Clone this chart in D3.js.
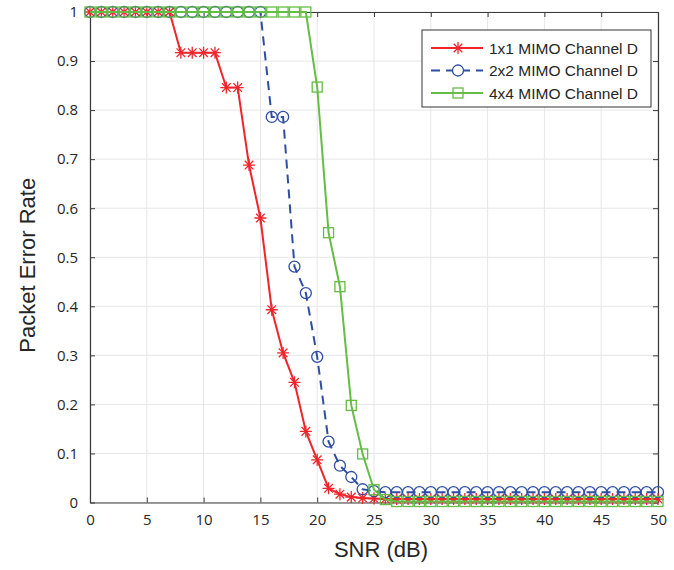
<!DOCTYPE html>
<html>
<head>
<meta charset="utf-8">
<script src="https://cdn.jsdelivr.net/npm/d3@7"></script>
<style>
  body { margin: 0; background: #fff; }
  text { font-family: "Open Sans", "Noto Sans", sans-serif; fill: #262626; }
  .lab { font-family: "Liberation Sans", Arial, sans-serif; }
</style>
</head>
<body>
<div class="chart"></div>
<script>
const snr = d3.range(0, 51);

const per1x1 = [1, 1, 1, 1, 1, 1, 1, 1, 0.917, 0.917, 0.917, 0.917, 0.846, 0.846, 0.688, 0.58,
    0.393, 0.305, 0.245, 0.145, 0.087, 0.029, 0.017, 0.011, 0.009, 0.008,
    0.007, 0.007, 0.007, 0.007, 0.007, 0.007, 0.007, 0.007, 0.007, 0.007, 0.007, 0.007, 0.007,
    0.007, 0.007, 0.007, 0.007, 0.007, 0.007, 0.007, 0.007, 0.007, 0.007, 0.007, 0.007];

const per2x2 = [1, 1, 1, 1, 1, 1, 1, 1, 1, 1, 1, 1, 1, 1, 1, 1,
    0.786, 0.786, 0.481, 0.427, 0.297, 0.124, 0.075, 0.052, 0.027, 0.023,
    0.021, 0.021, 0.021, 0.021, 0.021, 0.021, 0.021, 0.021, 0.021, 0.021, 0.021, 0.021, 0.021,
    0.021, 0.021, 0.021, 0.021, 0.021, 0.021, 0.021, 0.021, 0.021, 0.021, 0.021, 0.021];

const per4x4 = [1, 1, 1, 1, 1, 1, 1, 1, 1, 1, 1, 1, 1, 1, 1, 1, 1, 1, 1, 1,
    0.847, 0.55, 0.44, 0.198, 0.099, 0.026, 0.006,
    0.002, 0.002, 0.002, 0.002, 0.002, 0.002, 0.002, 0.002, 0.002, 0.002, 0.002, 0.002,
    0.002, 0.002, 0.002, 0.002, 0.002, 0.002, 0.002, 0.002, 0.002, 0.002, 0.002, 0.002];

const seriesNames = ["1x1 MIMO Channel D", "2x2 MIMO Channel D", "4x4 MIMO Channel D"];
const xTicks = d3.range(0, 51, 5);
const yTicks = d3.range(0, 11).map(d => d / 10);

const width = 674;
const height = 570;
const margin = { left: 90, right: 16, top: 12, bottom: 67.5 };

let svg = d3.select(".chart").append("svg")
    .attr("width", width)
    .attr("height", height);

let xScale = d3.scaleLinear().domain([0, 50]).range([margin.left, width - margin.right]);
let yScale = d3.scaleLinear().domain([0, 1]).range([height - margin.bottom, margin.top]);

const x0 = xScale(0), x1 = xScale(50), y0 = yScale(0), y1 = yScale(1);

// grid
svg.append("g").selectAll("line").data(xTicks).enter().append("line")
    .attr("x1", d => xScale(d)).attr("x2", d => xScale(d))
    .attr("y1", y0).attr("y2", y1)
    .attr("stroke", "#e6e6e6").attr("stroke-width", 1);
svg.append("g").selectAll("line").data(yTicks).enter().append("line")
    .attr("x1", x0).attr("x2", x1)
    .attr("y1", d => yScale(d)).attr("y2", d => yScale(d))
    .attr("stroke", "#e6e6e6").attr("stroke-width", 1);

// axes (MATLAB style: ticks inside, box on)
const axisColor = "#3a3a3a";
let xAxis = d3.axisBottom(xScale).tickValues(xTicks).tickSizeInner(-5).tickSizeOuter(0).tickPadding(12);
let yAxis = d3.axisLeft(yScale).tickValues(yTicks).tickSizeInner(-5).tickSizeOuter(0).tickPadding(12)
    .tickFormat(d => d === 0 || d === 1 ? d3.format("d")(d) : d3.format(".1f")(d));
let xTop = d3.axisTop(xScale).tickValues(xTicks).tickSizeInner(-5).tickSizeOuter(0).tickFormat("");
let yRight = d3.axisRight(yScale).tickValues(yTicks).tickSizeInner(-5).tickSizeOuter(0).tickFormat("");

[[xAxis, "translate(0," + y0 + ")"], [yAxis, "translate(" + x0 + ",0)"],
 [xTop, "translate(0," + y1 + ")"], [yRight, "translate(" + x1 + ",0)"]].forEach(([ax, tr]) => {
    let g = svg.append("g").attr("transform", tr).call(ax);
    g.select(".domain").attr("stroke", axisColor).attr("stroke-width", 1.2);
    g.selectAll(".tick line").attr("stroke", axisColor);
    g.selectAll(".tick text").style("font-size", "15px").attr("fill", "#333");
});

// axis labels
svg.append("text")
    .attr("class", "lab")
    .attr("x", (x0 + x1) / 2 + 7).attr("y", 557)
    .attr("text-anchor", "middle")
    .style("font-size", "22px")
    .text("SNR (dB)");
svg.append("text")
    .attr("class", "lab")
    .attr("transform", "translate(35," + ((y0 + y1) / 2 + 8) + ") rotate(-90)")
    .attr("text-anchor", "middle")
    .style("font-size", "22px")
    .text("Packet Error Rate");

// markers
function starPath(r) {
    const d = r * 0.72;
    return `M${-r},0L${r},0M0,${-r}L0,${r}M${-d},${-d}L${d},${d}M${-d},${d}L${d},${-d}`;
}
function drawMarker(g, kind, color) {
    if (kind === "star") {
        g.append("path").attr("d", starPath(6)).attr("stroke", color).attr("stroke-width", 1.3).attr("fill", "none");
    } else if (kind === "circle") {
        g.append("circle").attr("r", 5.5).attr("stroke", color).attr("stroke-width", 1.3).attr("fill", "none");
    } else {
        g.append("rect").attr("x", -5).attr("y", -5).attr("width", 10).attr("height", 10)
            .attr("stroke", color).attr("stroke-width", 1.3).attr("fill", "none");
    }
}

const series = [
    { name: seriesNames[0], values: per1x1, color: "#f0252b", dash: null, marker: "star" },
    { name: seriesNames[1], values: per2x2, color: "#2f4ea3", dash: "9,6", marker: "circle" },
    { name: seriesNames[2], values: per4x4, color: "#64bd44", dash: null, marker: "square" }
];

let line = d3.line().x(d => xScale(d[0])).y(d => yScale(d[1]));

let plot = svg.append("g");
series.forEach(s => {
    const pts = snr.map((x, i) => [x, s.values[i]]);
    plot.append("path")
        .datum(pts)
        .attr("d", line)
        .attr("fill", "none")
        .attr("stroke", s.color)
        .attr("stroke-width", 2)
        .attr("stroke-dasharray", s.dash);
    pts.forEach(p => {
        let g = plot.append("g").attr("transform", "translate(" + xScale(p[0]) + "," + yScale(p[1]) + ")");
        drawMarker(g, s.marker, s.color);
    });
});

// legend
let legend = svg.append("g").attr("transform", "translate(422,30)");
legend.append("rect")
    .attr("width", 229).attr("height", 77)
    .attr("fill", "#fff").attr("stroke", "#333").attr("stroke-width", 1);
series.forEach((s, i) => {
    let row = legend.append("g").attr("transform", "translate(0," + (18 + i * 22.5) + ")");
    row.append("line")
        .attr("x1", 9).attr("x2", 61)
        .attr("stroke", s.color).attr("stroke-width", 2)
        .attr("stroke-dasharray", s.dash);
    let m = row.append("g").attr("transform", "translate(36,0)");
    if (s.marker === "circle") {
        m.append("rect").attr("x", -6).attr("y", -6).attr("width", 12).attr("height", 12).attr("fill", "#fff");
    }
    drawMarker(m, s.marker, s.color);
    row.append("text")
        .attr("class", "lab")
        .attr("x", 67).attr("y", 5.5)
        .style("font-size", "15.5px")
        .text(s.name);
});
</script>
</body>
</html>
